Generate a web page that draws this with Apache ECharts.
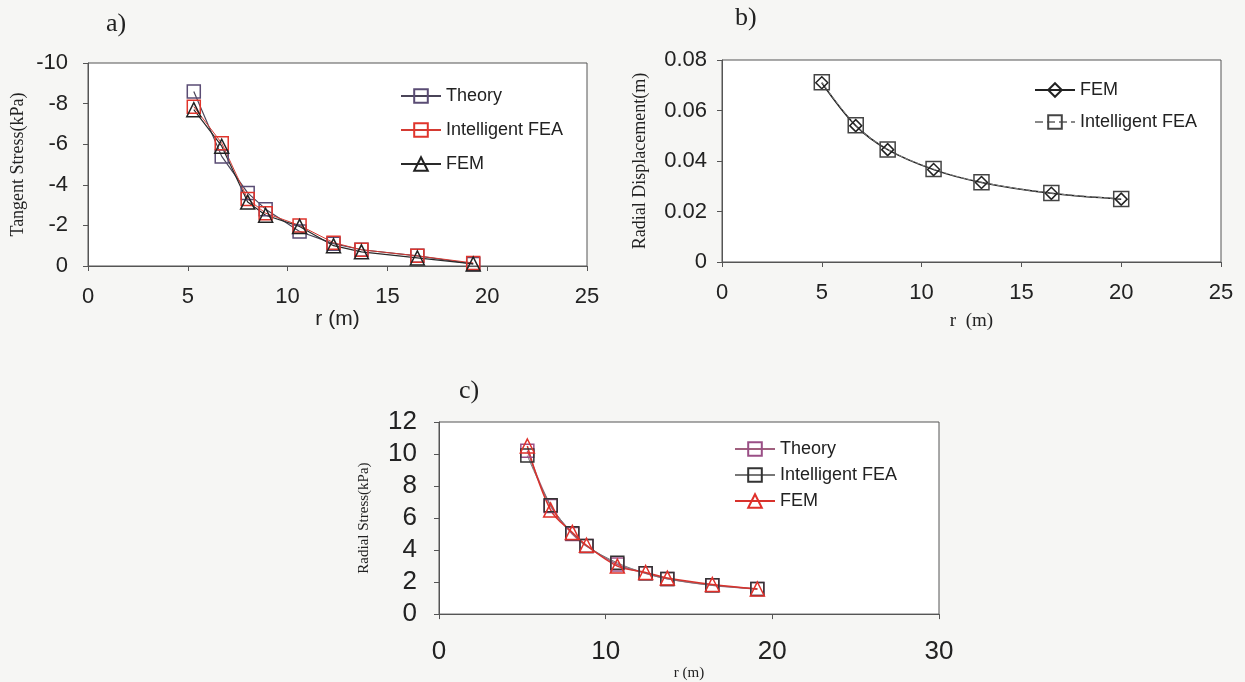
<!DOCTYPE html>
<html>
<head>
<meta charset="utf-8">
<script src="https://cdn.jsdelivr.net/npm/echarts@6/dist/echarts.min.js"></script>
<style>
  html, body { margin: 0; padding: 0; background: #f6f6f4; }
  #chart { width: 1245px; height: 682px; }
</style>
</head>
<body>
<div id="chart"></div>
<script>
// ---- Panel a) Tangent stress ----
const aR      = [5.3, 6.7, 8.0, 8.9, 10.6, 12.3, 13.7, 16.5, 19.3];
const aTheory = [-8.6, -5.4, -3.6, -2.8, -1.7, -1.1, -0.8, -0.5, -0.1];
const aIFEA   = [-7.85, -6.05, -3.3, -2.6, -2.0, -1.15, -0.8, -0.5, -0.15];
const aFEM    = [-7.7, -5.9, -3.15, -2.5, -1.95, -1.0, -0.7, -0.4, -0.1];

// ---- Panel b) Radial displacement ----
const bR    = [5, 6.7, 8.3, 10.6, 13, 16.5, 20];
const bFEM  = [0.071, 0.054, 0.0445, 0.0366, 0.0315, 0.0272, 0.0249];
const bIFEA = [0.0712, 0.0542, 0.0446, 0.0368, 0.0316, 0.0273, 0.025];

// ---- Panel c) Radial stress ----
const cR      = [5.3, 6.7, 8.0, 8.85, 10.7, 12.4, 13.7, 16.4, 19.1];
const cTheory = [10.2, 6.75, 5.0, 4.25, 3.1, 2.55, 2.2, 1.8, 1.57];
const cIFEA   = [9.9, 6.8, 5.05, 4.25, 3.2, 2.55, 2.2, 1.8, 1.57];
const cFEM    = [10.5, 6.5, 5.1, 4.3, 3.0, 2.6, 2.25, 1.85, 1.57];

const SANS = "'Liberation Sans', Arial, sans-serif";
const NARROW = "'Liberation Sans Narrow', 'Arial Narrow', 'Liberation Sans', sans-serif";
const SERIF = "'Liberation Serif', 'Times New Roman', serif";
const ZW = '\u200b';

function pairs(xs, ys) { return xs.map((x, i) => [x, ys[i]]); }

const hollow = 'rgba(255,255,255,0)';

function axisCommon(font, size, margin) {
  return {
    axisLine: { show: true, onZero: false, lineStyle: { color: '#555', width: 1 } },
    axisTick: { show: true, length: 5, lineStyle: { color: '#555' } },
    splitLine: { show: false },
    axisLabel: { fontFamily: font, fontSize: size, color: '#222', margin: margin }
  };
}

const option = {
  backgroundColor: '#f6f6f4',
  animation: false,
  title: [
    { text: 'a)', left: 101, top: 6, textStyle: { fontFamily: SERIF, fontSize: 26, fontWeight: 'normal', color: '#222' } },
    { text: 'b)', left: 730, top: 0, textStyle: { fontFamily: SERIF, fontSize: 26, fontWeight: 'normal', color: '#222' } },
    { text: 'c)', left: 454, top: 373, textStyle: { fontFamily: SERIF, fontSize: 26, fontWeight: 'normal', color: '#222' } }
  ],
  grid: [
    { left: 88, top: 63, width: 499, height: 203, show: true, borderColor: '#555', borderWidth: 1, backgroundColor: '#fff' },
    { left: 722, top: 60, width: 499, height: 202, show: true, borderColor: '#555', borderWidth: 1, backgroundColor: '#fff' },
    { left: 439, top: 422, width: 500, height: 206, show: true, borderColor: '#555', borderWidth: 1, backgroundColor: '#fff' }
  ],
  xAxis: [
    Object.assign(axisCommon(SANS, 22, 20), { type: 'value', gridIndex: 0, min: 0, max: 25, interval: 5,
      name: 'r (m)', nameLocation: 'middle', nameGap: 43, nameTextStyle: { fontFamily: SANS, fontSize: 21, color: '#222' } }),
    Object.assign(axisCommon(NARROW, 22, 20), { type: 'value', gridIndex: 1, min: 0, max: 25, interval: 5,
      name: 'r  (m)', nameLocation: 'middle', nameGap: 50, nameTextStyle: { fontFamily: SERIF, fontSize: 19, color: '#222' } }),
    Object.assign(axisCommon(SANS, 26, 25), { type: 'value', gridIndex: 2, min: 0, max: 30, interval: 10,
      name: 'r (m)', nameLocation: 'middle', nameGap: 37, nameTextStyle: { fontFamily: SERIF, fontSize: 15, color: '#222' } })
  ],
  yAxis: [
    Object.assign(axisCommon(SANS, 22, 20), { type: 'value', gridIndex: 0, min: -10, max: 0, interval: 2, inverse: true,
      name: 'Tangent Stress(kPa)', nameLocation: 'middle', nameRotate: 90, nameGap: 61,
      nameTextStyle: { fontFamily: SERIF, fontSize: 18, color: '#222' } }),
    Object.assign(axisCommon(NARROW, 22, 15), { type: 'value', gridIndex: 1, min: 0, max: 0.08, interval: 0.02,
      name: 'Radial Displacement(m)', nameLocation: 'middle', nameRotate: 90, nameGap: 73,
      nameTextStyle: { fontFamily: SERIF, fontSize: 18, color: '#222' } }),
    Object.assign(axisCommon(SANS, 26, 22), { type: 'value', gridIndex: 2, min: 0, max: 12, interval: 2,
      name: 'Radial Stress(kPa)', nameLocation: 'middle', nameRotate: 90, nameGap: 67,
      nameTextStyle: { fontFamily: SERIF, fontSize: 15, color: '#222' } })
  ],
  legend: [
    { orient: 'vertical', left: 395, top: 82, itemGap: 16, itemWidth: 40, itemHeight: 17,
      textStyle: { fontFamily: SANS, fontSize: 18, color: '#222' },
      data: ['Theory', 'Intelligent FEA', 'FEM'] },
    { orient: 'vertical', left: 1029, top: 76, itemGap: 14, itemWidth: 40, itemHeight: 17,
      textStyle: { fontFamily: NARROW, fontSize: 18, color: '#222' },
      data: ['FEM' + ZW, 'Intelligent FEA' + ZW] },
    { orient: 'vertical', left: 729, top: 435, itemGap: 8, itemWidth: 40, itemHeight: 17,
      textStyle: { fontFamily: SANS, fontSize: 18, color: '#222' },
      data: ['Theory' + ZW + ZW, 'Intelligent FEA' + ZW + ZW, 'FEM' + ZW + ZW] }
  ],
  series: [
    // a)
    { name: 'Theory', type: 'line', xAxisIndex: 0, yAxisIndex: 0, data: pairs(aR, aTheory),
      symbol: 'rect', symbolSize: 13, lineStyle: { color: '#4a4458', width: 1.2 },
      itemStyle: { color: hollow, borderColor: '#5a4c74', borderWidth: 1.5 } },
    { name: 'Intelligent FEA', type: 'line', xAxisIndex: 0, yAxisIndex: 0, data: pairs(aR, aIFEA),
      symbol: 'rect', symbolSize: 13, lineStyle: { color: '#d43a32', width: 1 },
      itemStyle: { color: hollow, borderColor: '#e0352c', borderWidth: 1.5 } },
    { name: 'FEM', type: 'line', xAxisIndex: 0, yAxisIndex: 0, data: pairs(aR, aFEM),
      symbol: 'triangle', symbolSize: 14, lineStyle: { color: '#2a2a2a', width: 1.2 },
      itemStyle: { color: hollow, borderColor: '#222', borderWidth: 1.5 } },
    // b)
    { name: 'FEM' + ZW, type: 'line', xAxisIndex: 1, yAxisIndex: 1, data: pairs(bR, bFEM), smooth: 0.35,
      symbol: 'diamond', symbolSize: 12, lineStyle: { color: '#222', width: 1.5 },
      itemStyle: { color: hollow, borderColor: '#222', borderWidth: 1.5 } },
    { name: 'Intelligent FEA' + ZW, type: 'line', xAxisIndex: 1, yAxisIndex: 1, data: pairs(bR, bIFEA), smooth: 0.35,
      symbol: 'rect', symbolSize: 15, lineStyle: { color: '#888', width: 1, type: 'dashed' },
      itemStyle: { color: hollow, borderColor: '#444', borderWidth: 1.5 } },
    // c)
    { name: 'Theory' + ZW + ZW, type: 'line', xAxisIndex: 2, yAxisIndex: 2, data: pairs(cR, cTheory), smooth: 0.35,
      symbol: 'rect', symbolSize: 13, lineStyle: { color: '#a0607e', width: 1.5 },
      itemStyle: { color: hollow, borderColor: '#9a4f86', borderWidth: 1.5 } },
    { name: 'Intelligent FEA' + ZW + ZW, type: 'line', xAxisIndex: 2, yAxisIndex: 2, data: pairs(cR, cIFEA), smooth: 0.35,
      symbol: 'rect', symbolSize: 13, lineStyle: { color: '#777', width: 1 },
      itemStyle: { color: hollow, borderColor: '#333', borderWidth: 1.5 } },
    { name: 'FEM' + ZW + ZW, type: 'line', xAxisIndex: 2, yAxisIndex: 2, data: pairs(cR, cFEM), smooth: 0.35,
      symbol: 'triangle', symbolSize: 14, lineStyle: { color: '#d8322c', width: 1.5 },
      itemStyle: { color: hollow, borderColor: '#e0302a', borderWidth: 1.5 } }
  ]
};

const chart = echarts.init(document.getElementById('chart'), null, { renderer: 'canvas' });
chart.setOption(option);
</script>
</body>
</html>
